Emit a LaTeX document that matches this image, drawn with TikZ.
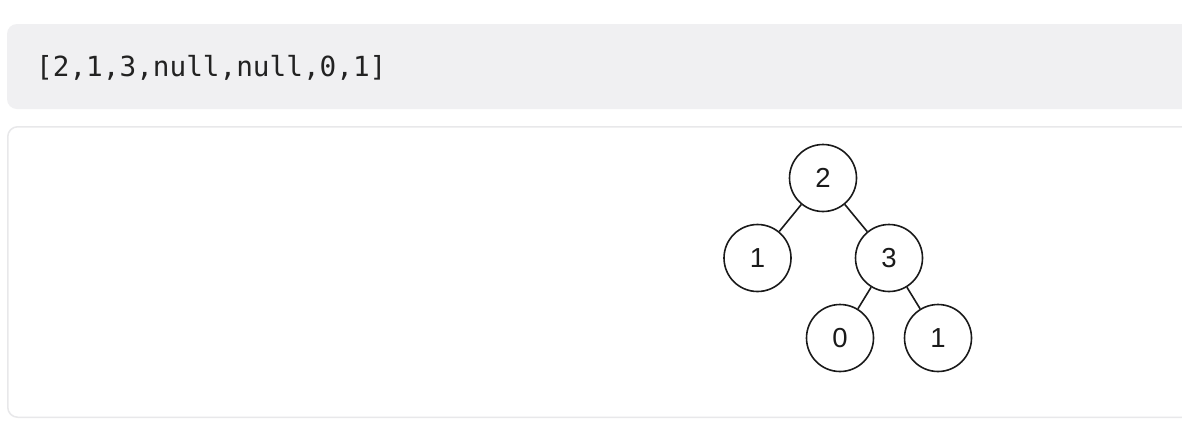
\documentclass[tikz,border=0pt]{standalone}
\usepackage{fontspec}
\setmainfont{Liberation Sans}
\newfontfamily\codefont{DejaVu Sans Mono}
\definecolor{codebg}{HTML}{F0F0F2}
\definecolor{boxline}{HTML}{E8E8EA}
\definecolor{ink}{HTML}{222222}
\definecolor{edgeink}{HTML}{1A1A1A}
\tikzset{
  treenode/.style={circle, draw=edgeink, line width=1.6pt, minimum size=67pt, inner sep=0pt, fill=white, text=edgeink, font=\fontsize{27.5}{27.5}\selectfont},
  treeedge/.style={draw=edgeink, line width=1.6pt},
  codepanel/.style={fill=codebg, rounded corners=10pt},
  outpanel/.style={draw=boxline, line width=1.5pt, fill=white, rounded corners=10pt}
}
\begin{document}
\begin{tikzpicture}[x=1pt,y=-1pt]
\useasboundingbox (0,0) rectangle (1182,440);
\clip (0,0) rectangle (1182,440);
\fill[white] (0,0) rectangle (1182,440);
% code panel
\path[codepanel] (7,24) rectangle (1200,109);
\node[anchor=base west, inner sep=0pt, text=ink, font=\codefont\fontsize{27.7}{27.7}\selectfont] (code) at (36,76) {[2,1,3,null,null,0,1]};
% output panel
\path[outpanel] (7.75,126.75) rectangle (1200,417.25);
% tree
\node[treenode] (n2) at (823,178) {2};
\node[treenode] (n1) at (757.5,258) {1};
\node[treenode] (n3) at (889,258) {3};
\node[treenode] (n0) at (840,338) {0};
\node[treenode] (n1b) at (938,338) {1};
\draw[treeedge] (n2) -- (n1);
\draw[treeedge] (n2) -- (n3);
\draw[treeedge] (n3) -- (n0);
\draw[treeedge] (n3) -- (n1b);
\end{tikzpicture}
\end{document}
